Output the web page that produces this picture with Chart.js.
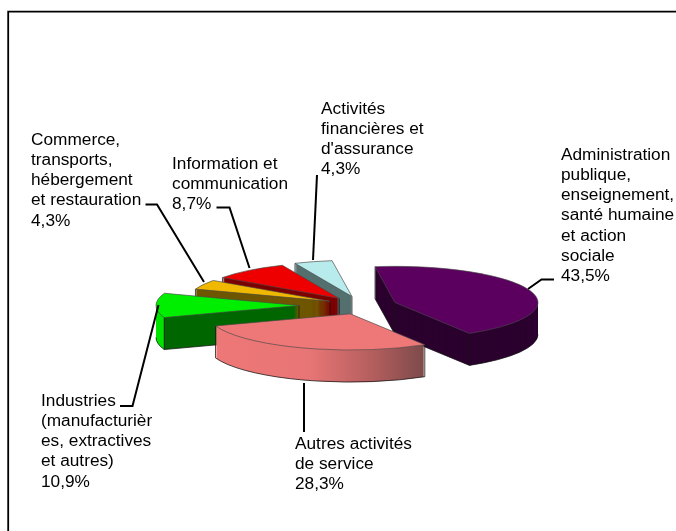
<!DOCTYPE html>
<html>
<head>
<meta charset="utf-8">
<style>html,body{margin:0;padding:0;background:#fff}canvas{display:block}</style>
<script src="https://cdn.jsdelivr.net/npm/chart.js@4"></script>
</head>
<body>
<div style="width:676px;height:531px"><canvas id="c" width="676" height="531"></canvas></div>
<script>
// Data
const categories = [
  ["Administration","publique,","enseignement,","santé humaine","et action","sociale"],
  ["Autres activités","de service"],
  ["Industries","(manufacturièr","es, extractives","et autres)"],
  ["Commerce,","transports,","hébergement","et restauration"],
  ["Information et","communication"],
  ["Activités","financières et","d'assurance"]
];
const shares = [43.5, 28.3, 10.9, 4.3, 8.7, 4.3];
const topColors = ["#5c0060","#ee7777","#00ee00","#f0b800","#ee0000","#b8ecec"];
const wallColors = ["#2b002e","#ee7777","#006600","#6f5600","#7c0000","#54706f"];

// Layout
const tilt = 0.253, depth = 32, pieRadius = 143, rotationDeg = -8;
const explode = [35, 35, 63, 36, 36, 37];
const paintOrder = [5, 4, 3, 2, 0, 1];
const labelPos = [[561,155],[295,444],[41,401],[31,140],[172,164],[321,109]];
const lineStep = 20.2;
const leaders = [
  [[528,289],[541.5,279.5],[554,279.5]],
  [[304,383],[304,432]],
  [[158.5,305],[132.5,406],[120,406]],
  [[204,282],[157,204.5],[145.5,204.5]],
  [[249.5,268],[229.5,207.5],[216.5,207.5]],
  [[313,260],[317,175]]
];

const pie3d = {
  id: 'pie3d',
  beforeDatasetsDraw(chart) {
    const ctx = chart.ctx, meta = chart.getDatasetMeta(0);
    const a0 = meta.data[0];
    const cx = a0.x, cy = a0.y;
    // frame
    ctx.save();
    ctx.strokeStyle = '#000'; ctx.lineWidth = 1.8;
    ctx.beginPath(); ctx.moveTo(8.2, 531); ctx.lineTo(8.2, 11.7); ctx.lineTo(676, 11.7); ctx.stroke();
    ctx.restore();

    const geom = (arc, i) => {
      const off = explode[i], mid = (arc.startAngle + arc.endAngle) / 2;
      const dx = Math.cos(mid) * off, dy = Math.sin(mid) * off;
      const ax = cx + dx, ay = cy + dy * tilt;
      const R = arc.outerRadius;
      return {dx, dy, ax, ay, R, s: arc.startAngle, e: arc.endAngle,
        sx: ax + Math.cos(arc.startAngle) * R, sy: ay + Math.sin(arc.startAngle) * R * tilt,
        ex: ax + Math.cos(arc.endAngle) * R, ey: ay + Math.sin(arc.endAngle) * R * tilt};
    };
    // The slice is drawn by the library in flat coordinates, then squashed and lifted here.
    const place = (g, lift, fn) => {
      ctx.save();
      ctx.translate(cx, cy); ctx.scale(1, tilt); ctx.translate(-cx, -cy);
      ctx.translate(g.dx, g.dy + lift / tilt);
      fn(); ctx.restore();
    };
    const wallFill = (i, g) => {
      if (i === 1) {
        const gr = ctx.createLinearGradient(g.ex - g.dx, 0, g.sx - g.dx, 0);
        gr.addColorStop(0, '#ee7777');
        gr.addColorStop(0.45, '#e87575');
        gr.addColorStop(0.75, '#b45e5e');
        gr.addColorStop(1, '#7c4a4a');
        return gr;
      }
      if (i === 2) {
        const left = g.ax - g.R, right = g.ax + 10;
        const gr = ctx.createLinearGradient(left - g.dx, 0, right - g.dx, 0);
        const c = (Math.min(g.sx, g.ex) - left) / (right - left);
        gr.addColorStop(0, '#00e400');
        gr.addColorStop(c, '#00e400');
        gr.addColorStop(c, wallColors[2]);
        gr.addColorStop(1, wallColors[2]);
        return gr;
      }
      return wallColors[i];
    };
    const wallLines = (g) => {
      const startFront = g.sx < g.ax, endFront = g.ax < g.ex;
      ctx.save();
      ctx.strokeStyle = 'rgba(20,20,20,0.75)'; ctx.lineWidth = 1;
      ctx.beginPath();
      const vert = (x, y) => { ctx.moveTo(x, y); ctx.lineTo(x, y + depth); };
      if (startFront || endFront) vert(g.ax, g.ay);
      if (startFront || Math.sin(g.s) > 0) vert(g.sx, g.sy);
      if (endFront || Math.sin(g.e) > 0) vert(g.ex, g.ey);
      if (startFront) { ctx.moveTo(g.ax,g.ay+depth); ctx.lineTo(g.sx,g.sy+depth); }
      if (endFront) { ctx.moveTo(g.ex,g.ey+depth); ctx.lineTo(g.ax,g.ay+depth); }
      const TAU = Math.PI*2;
      for (const k of [-1,0,1]) {
        const from = Math.max(g.s, k*TAU), to = Math.min(g.e, k*TAU+Math.PI);
        if (to > from) {
          ctx.moveTo(g.ax + Math.cos(from)*g.R, g.ay + Math.sin(from)*g.R*tilt + depth);
          ctx.ellipse(g.ax, g.ay + depth, g.R, g.R*tilt, 0, from, to);
        }
      }
      ctx.stroke();
      ctx.restore();
    };
    const topOutline = (g) => {
      ctx.save();
      ctx.strokeStyle = 'rgba(70,70,70,0.65)'; ctx.lineWidth = 1;
      ctx.beginPath();
      ctx.moveTo(g.ax, g.ay); ctx.lineTo(g.sx, g.sy);
      ctx.ellipse(g.ax, g.ay, g.R, g.R*tilt, 0, g.s, g.e);
      ctx.closePath(); ctx.stroke();
      ctx.restore();
    };

    paintOrder.forEach(i => {
      const arc = meta.data[i], g = geom(arc, i), saved = arc.options;
      arc.options = Object.assign({}, saved, {backgroundColor: wallFill(i, g), borderWidth: 0, offset: 0});
      for (let d = depth; d >= 1; d--) place(g, d, () => arc.draw(ctx));
      wallLines(g);
      arc.options = Object.assign({}, saved, {borderWidth: 0, offset: 0});
      place(g, 0, () => arc.draw(ctx));
      arc.options = saved;
      topOutline(g);
    });

    // Leaders
    ctx.save();
    ctx.strokeStyle = '#000'; ctx.lineWidth = 2; ctx.lineJoin = 'miter';
    leaders.forEach(pts => {
      ctx.beginPath();
      pts.forEach((p, k) => k ? ctx.lineTo(p[0], p[1]) : ctx.moveTo(p[0], p[1]));
      ctx.stroke();
    });
    ctx.restore();

    // Labels
    ctx.save();
    ctx.fillStyle = '#000';
    ctx.font = '17.25px "Liberation Sans", Arial, sans-serif';
    ctx.textBaseline = 'middle'; ctx.textAlign = 'left';
    categories.forEach((lines, i) => {
      const all = lines.concat(shares[i].toFixed(1).replace('.', ',') + '%');
      all.forEach((t, n) => ctx.fillText(t, labelPos[i][0], labelPos[i][1] + n * lineStep));
    });
    ctx.restore();
    return false;
  }
};

new Chart(document.getElementById('c'), {
  type: 'pie',
  data: {
    labels: categories,
    datasets: [{
      data: shares,
      backgroundColor: topColors,
      borderWidth: 0,
      offset: explode.map(v => v * 4)
    }]
  },
  options: {
    responsive: false,
    animation: false,
    rotation: rotationDeg,
    radius: pieRadius,
    layout: {padding: {left: 48, top: 80}},
    plugins: {legend: {display: false}, tooltip: {enabled: false}, title: {display: false}}
  },
  plugins: [pie3d]
});
</script>
</body>
</html>
